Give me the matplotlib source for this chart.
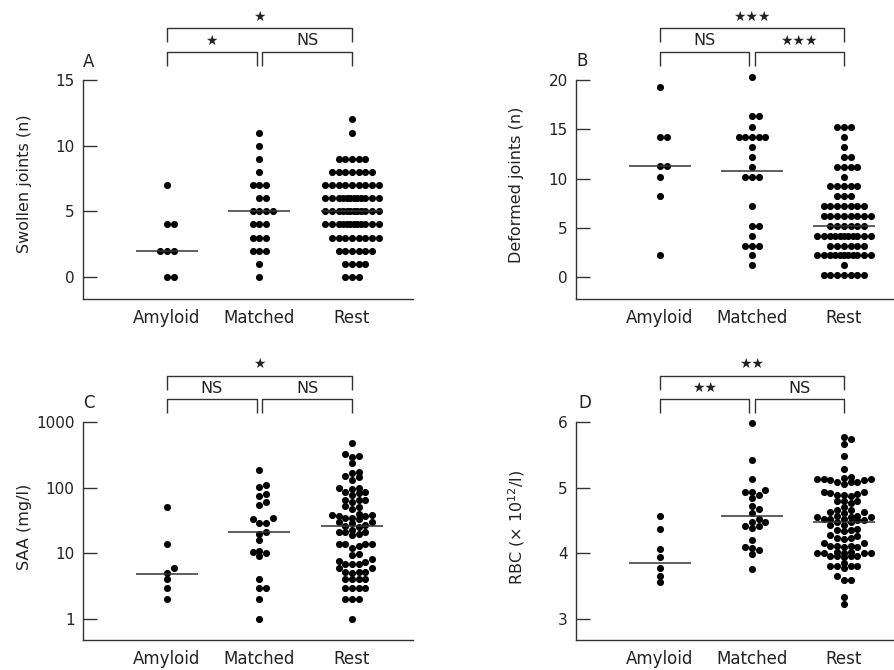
import numpy as np
import matplotlib

matplotlib.use("Agg")
import matplotlib.pyplot as plt
from matplotlib import transforms

plt.rcParams["font.family"] = ["DejaVu Sans"]
plt.rcParams["mathtext.default"] = "regular"

W, H = 894, 670
groups = ["Amyloid", "Matched", "Rest"]

# panel A: swollen joints (discrete counts, value -> number of patients)
a_amy_vals = [7, 4, 2, 0]
a_amy_counts = [1, 2, 3, 2]
a_mat_vals = [11, 10, 9, 8, 7, 6, 5, 4, 3, 2, 1, 0]
a_mat_counts = [1, 1, 1, 1, 3, 2, 4, 3, 3, 3, 1, 1]
a_rest_vals = [12, 11, 9, 8, 7, 6, 5, 4, 3, 2, 1, 0]
a_rest_counts = [1, 1, 5, 7, 9, 12, 12, 12, 8, 6, 4, 3]
a_medians = [2, 5, 5]

# panel B: deformed joints
b_amy_vals = [19.3, 14.2, 11.3, 10.2, 8.2, 2.2]
b_amy_counts = [1, 2, 2, 1, 1, 1]
b_mat_vals = [20.3, 16.3, 15.2, 14.2, 13.2, 12.2, 11.2, 10.2, 7.2, 5.2, 4.2, 3.2, 2.2, 1.2]
b_mat_counts = [1, 2, 1, 5, 1, 1, 1, 3, 1, 2, 1, 3, 1, 1]
b_rest_vals = [15.2, 14.2, 13.2, 12.2, 11.2, 10.2, 9.2, 8.2, 7.2, 6.2, 5.2, 4.2, 3.2, 2.2, 1.2, 0.2]
b_rest_counts = [3, 1, 1, 2, 4, 1, 5, 3, 7, 8, 6, 11, 6, 11, 1, 7]
b_medians = [11.3, 10.8, 5.2]

# panel C: SAA (mg/l), log scale
c_amy = [50, 14, 6, 5, 4, 3, 2]
c_mat = [185, 110, 103, 80, 75, 60, 54, 34, 33, 29, 29, 21, 20, 16,
         11, 10.6, 10, 9, 4, 3, 3, 2, 1]
c_rest = [473, 330, 305, 290, 235, 175, 165, 150, 145, 130,
          100, 100, 95, 87, 87, 82, 78, 65, 65, 65, 60,
          53, 50, 47, 40, 37, 35, 38, 38, 37, 34, 33,
          30, 30, 29, 27, 26, 25, 23, 21, 21, 21, 20, 19,
          14, 14, 14, 14, 13, 12,
          9.7, 9.4, 8.2, 7.6, 7.3, 7, 7, 7,
          6, 6, 5.2, 5.2, 5.2, 5,
          4, 4, 4, 4, 3, 3, 3, 3, 2, 2, 2, 1]
c_medians = [4.8, 21, 26]

# panel D: RBC (x10^12/l)
d_amy = [4.57, 4.37, 4.06, 3.95, 3.78, 3.66, 3.57]
d_mat = [5.98, 5.42, 5.13, 4.97, 4.94, 4.94, 4.89, 4.85, 4.72, 4.67, 4.62,
         4.52, 4.47, 4.42, 4.38, 4.42, 4.47, 4.20, 4.10, 4.08, 4.05, 3.99, 3.76]
d_rest = [5.77, 5.74, 5.67, 5.48, 5.29,
          5.17, 5.14, 5.13, 5.13, 5.13, 5.11, 5.11, 5.09, 5.09, 5.08, 5.06,
          4.94, 4.94, 4.92, 4.91, 4.89, 4.89, 4.87,
          4.80, 4.80, 4.79, 4.76, 4.71,
          4.66, 4.66, 4.63, 4.63, 4.62,
          4.57, 4.57, 4.56, 4.56, 4.55, 4.53,
          4.52, 4.52, 4.51, 4.50, 4.48, 4.47, 4.43, 4.43,
          4.37, 4.36, 4.35, 4.34, 4.28, 4.26, 4.23, 4.23, 4.22,
          4.15, 4.15, 4.11, 4.11, 4.11, 4.10, 4.10,
          4.02, 4.01, 4.01, 4.00, 4.01, 4.02, 4.00,
          3.96, 3.96, 3.96, 3.95, 3.96,
          3.86, 3.81, 3.80, 3.80, 3.80, 3.77,
          3.65, 3.60, 3.60, 3.34, 3.23]
d_medians = [3.85, 4.57, 4.48]

LINE = "#333333"
TEXT = "#222222"
STEP = 6.7  # px between dot centres
DOT_S = 26


def px_per_x(ax):
    p = ax.transData.transform([[0, 1], [1, 1]])
    return p[1, 0] - p[0, 0]


def row_offsets(n, step, maxn=9):
    if n <= maxn:
        o = (np.arange(n) - (n - 1) / 2.0) * step
        if n % 2 == 0:
            o = o + step / 2.0
        return o
    edge = np.array([-4, -3, -2, 2, 3, 4]) * step
    mid = np.linspace(-1.3 * step, 1.3 * step, n - 6)
    return np.sort(np.concatenate([edge, mid]))


def dots_discrete(ax, x0, vals, counts):
    k = px_per_x(ax)
    for v, c in zip(vals, counts):
        xs = x0 + row_offsets(c, STEP) / k
        ax.scatter(xs, [v] * c, s=DOT_S, color="black", linewidths=0, zorder=3, clip_on=False)


def dots_swarm(ax, x0, vals, maxk=4):
    k = px_per_x(ax)
    vals = np.asarray(vals, dtype=float)
    ys = ax.transData.transform(np.column_stack([np.full(len(vals), x0), vals]))[:, 1]
    order = np.argsort(ys)
    placed = []
    offs = np.zeros(len(vals))
    cands = [0]
    for j in range(1, maxk + 1):
        cands += [j, -j]
    for i in order:
        best, best_d = 0, -1
        for c in cands:
            dx = c * STEP
            d = min([np.hypot(dx - px, ys[i] - py) for px, py in placed] + [99])
            if d >= 5.3:
                best = dx
                break
            if d > best_d:
                best, best_d = dx, d
        placed.append((best, ys[i]))
        offs[i] = best
    ax.scatter(x0 + offs / k, vals, s=DOT_S, color="black", linewidths=0, zorder=3, clip_on=False)


def medians(ax, meds, half=0.335):
    for i, m in enumerate(meds):
        ax.plot([i - half, i + half], [m, m], color=LINE, lw=1.1, zorder=4, solid_capstyle="butt")


def brackets(fig, ax, top_px, labels):
    tr = transforms.blended_transform_factory(ax.transData, fig.transFigure)
    fy = lambda p: 1 - p / H
    g = 0.03
    t0, t1, t2, t3 = top_px, top_px + 14, top_px + 23.5, top_px + 37.5
    kw = dict(color=LINE, lw=1.0, transform=tr, clip_on=False, solid_capstyle="butt")
    # overall bracket
    ax.plot([0, 0, 2, 2], [fy(t1), fy(t0), fy(t0), fy(t1)], **kw)
    # pairwise brackets
    ax.plot([0, 0, 1 - g, 1 - g], [fy(t3), fy(t2), fy(t2), fy(t3)], **kw)
    ax.plot([1 + g, 1 + g, 2, 2], [fy(t3), fy(t2), fy(t2), fy(t3)], **kw)
    for x, y, s in [(1, t0 - 11.5, labels[0]), ((1 - g) / 2, t0 + 12.5, labels[1]),
                    ((3 + g) / 2, t0 + 12.5, labels[2])]:
        fs = 10 if "★" in s else 11.5
        ax.text(x, fy(y), s, transform=tr, ha="center", va="center", fontsize=fs, color=TEXT)


def style(ax, ylim, yticks, ylab, lab_px, letter, letter_px):
    ax.set_ylim(*ylim)
    ax.set_yticks(yticks)
    for s in ["top", "right"]:
        ax.spines[s].set_visible(False)
    for s in ["left", "bottom"]:
        ax.spines[s].set_color(LINE)
        ax.spines[s].set_linewidth(1.0)
    ax.spines["left"].set_bounds(ylim[0], yticks[-1])
    ax.tick_params(axis="y", direction="in", length=10, width=1.0, color=LINE,
                   labelsize=11, pad=6, labelcolor=TEXT)
    ax.tick_params(axis="y", which="minor", length=0)
    ax.set_xticks([0, 1, 2])
    ax.set_xticklabels(groups)
    ax.tick_params(axis="x", length=0, labelsize=12, pad=7, labelcolor=TEXT)
    ax.text(lab_px[0] / W, 1 - lab_px[1] / H, ylab, transform=ax.figure.transFigure,
            rotation=90, ha="center", va="center", fontsize=11.5, color=TEXT)
    ax.text(letter_px[0] / W, 1 - letter_px[1] / H, letter, transform=ax.figure.transFigure,
            ha="left", va="center", fontsize=12, color=TEXT)


fig = plt.figure(figsize=(W / 100, H / 100), dpi=100)

# axes boxes in pixels: left, right, top, bottom
def make_ax(l, r, t, b, xlim):
    ax = fig.add_axes([l / W, 1 - b / H, (r - l) / W, (b - t) / H])
    ax.set_xlim(*xlim)
    ax.patch.set_alpha(0)
    return ax


axA = make_ax(83, 413, 80, 299, (-0.908, 2.66))
axB = make_ax(576, 894, 80, 299, (-0.913, 2.545))
axC = make_ax(83, 413, 422, 640, (-0.908, 2.66))
axD = make_ax(576, 894, 422, 640, (-0.913, 2.545))

# A
style(axA, (-1.68, 15), [0, 5, 10, 15], "Swollen joints (n)", (25, 184), "A", (83, 62))
dots_discrete(axA, 0, a_amy_vals, a_amy_counts)
dots_discrete(axA, 1, a_mat_vals, a_mat_counts)
dots_discrete(axA, 2, a_rest_vals, a_rest_counts)
medians(axA, a_medians)
brackets(fig, axA, 28.3, ["★", "★", "NS"])

# B
style(axB, (-2.23, 20), [0, 5, 10, 15, 20], "Deformed joints (n)", (517, 185), "B", (576, 61))
dots_discrete(axB, 0, b_amy_vals, b_amy_counts)
dots_discrete(axB, 1, b_mat_vals, b_mat_counts)
dots_discrete(axB, 2, b_rest_vals, b_rest_counts)
medians(axB, b_medians)
brackets(fig, axB, 28.3, ["★★★", "NS", "★★★"])

# C
axC.set_yscale("log")
style(axC, (0.479, 1000), [1, 10, 100, 1000], "SAA (mg/l)", (25, 527), "C", (83, 403))
axC.set_yticklabels(["1", "10", "100", "1000"])
dots_swarm(axC, 0, c_amy)
dots_swarm(axC, 1, c_mat)
dots_swarm(axC, 2, c_rest)
medians(axC, c_medians)
brackets(fig, axC, 375.7, ["★", "NS", "NS"])

# D
style(axD, (2.68, 6), [3, 4, 5, 6], "RBC (× 10$^{12}$/l)", (517, 527), "D", (578, 403))
dots_swarm(axD, 0, d_amy)
dots_swarm(axD, 1, d_mat)
dots_swarm(axD, 2, d_rest)
medians(axD, d_medians)
brackets(fig, axD, 375.7, ["★★", "★★", "NS"])

fig.savefig("out.png", dpi=100)
